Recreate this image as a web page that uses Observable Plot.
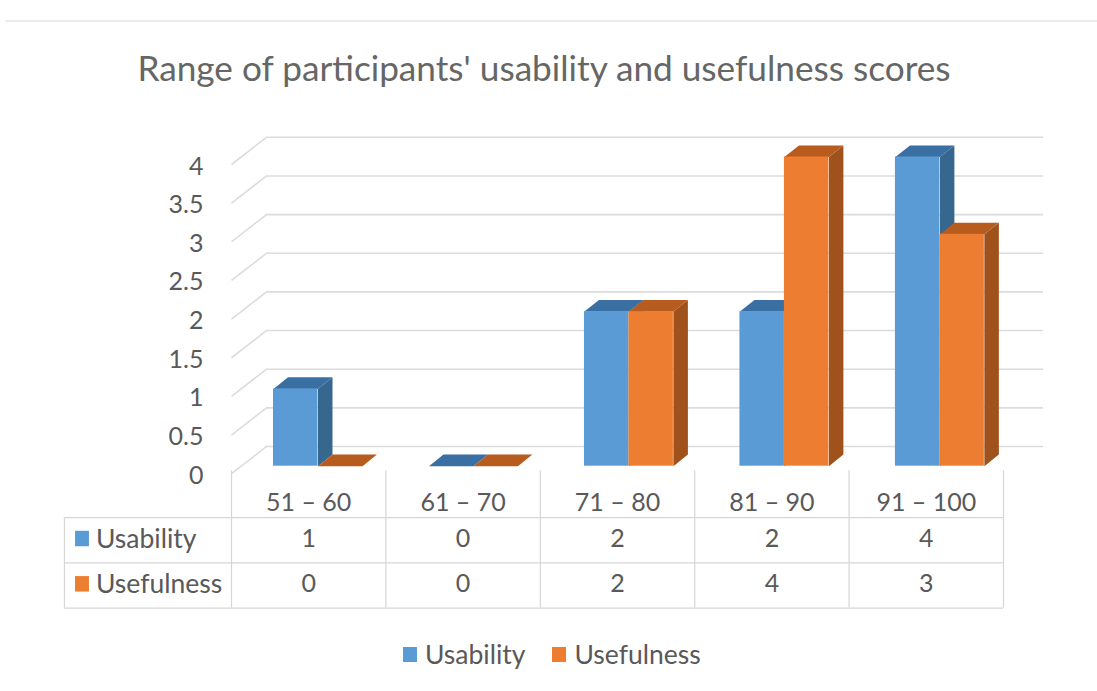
<!DOCTYPE html>
<html>
<head>
<meta charset="utf-8">
<script src="https://cdn.jsdelivr.net/npm/d3@7"></script>
<script src="https://cdn.jsdelivr.net/npm/@observablehq/plot@0.6"></script>
<style>
  html, body { margin: 0; background: #fff; }
  body { width: 1097px; height: 691px; overflow: hidden; font-family: Lato, sans-serif; color: #595959; position: relative; }
  #rule { position: absolute; left: 5px; right: 0; top: 20px; height: 2px; background: #ececec; }
  #title { width: 1088px; height: 100px; box-sizing: border-box; padding-top: 45px; text-align: center; font-size: 35.2px; line-height: 44px; color: #666; white-space: nowrap; }
  #legend { position: absolute; top: 638px; left: 403px; display: flex; align-items: center; font-size: 26.5px; line-height: 32px; }
  #legend i { width: 14px; height: 15px; margin-right: 8px; display: block; }
  #legend span { margin-right: 27px; }
  svg { display: block; }
</style>
</head>
<body>
<div id="rule"></div>
<div id="title">Range of participants' usability and usefulness scores</div>
<div id="chart"></div>
<div id="legend"></div>
<script>
// Score bands and how many participants fell in each
const categories = ["51 – 60", "61 – 70", "71 – 80", "81 – 90", "91 – 100"];
const usability = [1, 0, 2, 2, 4];
const usefulness = [0, 0, 2, 4, 3];
const seriesNames = ["Usability", "Usefulness"];
const valueTicks = [0, 0.5, 1, 1.5, 2, 2.5, 3, 3.5, 4];

// Per-series colours: front, top and side of each extruded bar
const shades = [
  {front: "#5b9bd5", top: "#3a6fa3", side: "#35678f"},
  {front: "#ed7d31", top: "#b85b1f", side: "#9f521b"}
];

// Oblique projection, expressed in scale units (one band across, one score up)
const wall = {frontY: -0.097, backY: 0.255, backX: 0.227, rightX: 5.259};
const bar = {start: 0.272, step: 1.007, width: 0.288, depthX: 0.094, depthY: 0.15};
const table = {leftX: -1.082, top: -0.664, rowH: -0.586, floor: -0.06, headerY: -0.47, labelX: -0.878, keyX: -0.965};

const seriesValues = [usability, usefulness];
const bars = seriesValues.flatMap((values, s) =>
  values.map((v, c) => {
    const x1 = c * bar.step + bar.start + s * bar.width;
    return {id: `${s}-${c}`, s, v, x1, x2: x1 + bar.width};
  })
);

// Outline of the visible top and side faces of a bar
const topFace = b => [
  [b.x1, b.v], [b.x1 + bar.depthX, b.v + bar.depthY],
  [b.x2 + bar.depthX, b.v + bar.depthY], [b.x2, b.v]
];
const sideFace = b => [
  [b.x2, 0], [b.x2, b.v], [b.x2 + bar.depthX, b.v + bar.depthY], [b.x2 + bar.depthX, bar.depthY]
];
const outline = (face, s) => bars.filter(b => b.s === s)
  .flatMap(b => face(b).map(([x, y]) => ({id: b.id, x, y})));

const barMarks = seriesValues.flatMap((_, s) => [
  Plot.line(outline(sideFace, s), {x: "x", y: "y", z: "id", fill: shades[s].side, stroke: "none", curve: "linear-closed"}),
  Plot.line(outline(topFace, s), {x: "x", y: "y", z: "id", fill: shades[s].top, stroke: "none", curve: "linear-closed"}),
  Plot.rectY(bars.filter(b => b.s === s), {x1: "x1", x2: "x2", y1: () => 0, y2: "v", fill: shades[s].front, inset: 0})
]);

const rowY = i => table.top + table.rowH * i;
const gridColor = "#dcdcdc";
const tableColor = "#d6d6d6";
const fontSize = 25;
const rowLabelSize = 26.5;

const tableCells = seriesValues.flatMap((values, r) =>
  values.map((v, c) => ({c: c + 0.5, y: rowY(r + 0.5) + 0.015, v}))
);
const rowKeys = seriesNames.map((name, r) => ({name, r, y: rowY(r + 0.5) + 0.015}));

const plot = Plot.plot({
  width: 1097,
  height: 530,
  marginLeft: 203,
  marginTop: 0,
  marginRight: 0,
  marginBottom: 0,
  style: {fontFamily: "Lato, sans-serif", color: "#595959", background: "#fff"},
  x: {domain: [0, 5], range: [231, 1003], axis: null},
  y: {domain: [0, 4], range: [365.7, 56.5], axis: null},
  marks: [
    // Back wall gridlines and their slanted returns on the side wall
    Plot.ruleY(valueTicks, {y: v => v + wall.backY, x1: () => wall.backX, x2: () => wall.rightX, stroke: gridColor, strokeWidth: 1.6}),
    Plot.link(valueTicks, {x1: () => 0, y1: v => v + wall.frontY, x2: () => wall.backX, y2: v => v + wall.backY, stroke: gridColor, strokeWidth: 1.6}),

    Plot.axisY(valueTicks, {anchor: "left", tickSize: 0, tickPadding: 0, dy: 9.5, fontSize, label: null, tickFormat: String, fill: "#595959"}),

    ...barMarks,

    // Data table underneath the plot
    Plot.ruleY([0, 1, 2], {y: i => rowY(i), x1: () => table.leftX, x2: () => 5, stroke: tableColor, strokeWidth: 1.2}),
    Plot.ruleX(d3.range(6), {x: i => i, y1: () => table.floor, y2: () => rowY(2), stroke: tableColor, strokeWidth: 1.2}),
    Plot.ruleX([table.leftX], {y1: () => rowY(0), y2: () => rowY(2), stroke: tableColor, strokeWidth: 1.2}),
    Plot.text(categories, {x: (d, i) => i + 0.5, y: () => table.headerY, text: d => d, fontSize, fill: "#595959"}),
    Plot.text(tableCells, {x: "c", y: "y", text: d => String(d.v), fontSize, fill: "#595959"}),
    Plot.text(rowKeys, {x: () => table.labelX, y: "y", text: "name", textAnchor: "start", fontSize: rowLabelSize, fill: "#595959"}),
    ...rowKeys.map(k => Plot.rect([k], {
      x1: () => table.keyX - 0.045, x2: () => table.keyX + 0.045,
      y1: d => d.y - 0.1, y2: d => d.y + 0.1, fill: shades[k.r].front
    }))
  ]
});
document.getElementById("chart").append(plot);

// Series key below the chart
const legend = d3.select("#legend");
seriesNames.forEach((name, s) => {
  legend.append("i").style("background", shades[s].front);
  legend.append("span").text(name);
});
</script>
</body>
</html>
